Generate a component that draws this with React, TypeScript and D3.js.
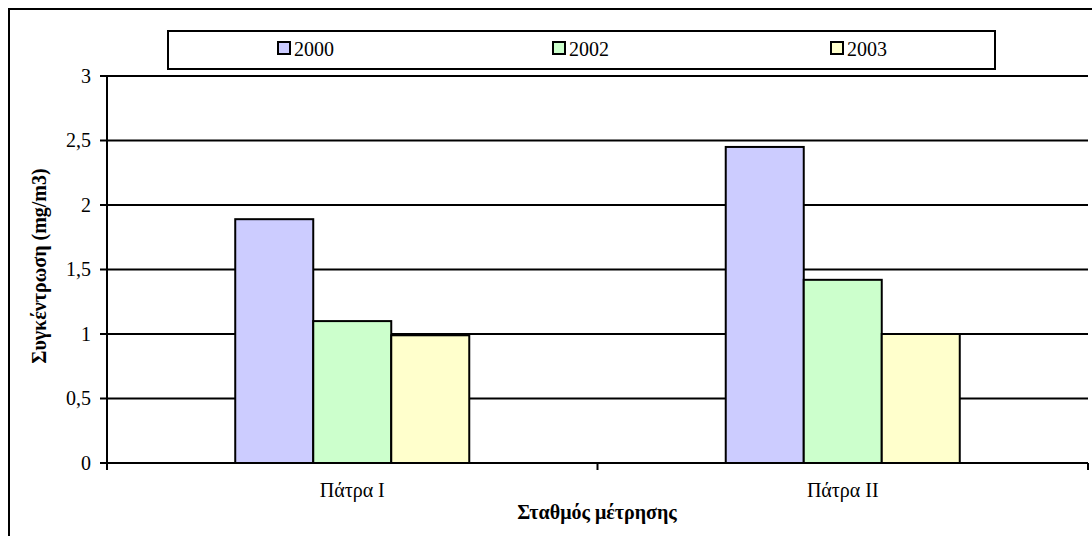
import React from "react";
import * as d3 from "d3";

const categories = ["Πάτρα I", "Πάτρα II"];
const seriesNames = ["2000", "2002", "2003"];
const values2000 = [1.89, 2.45];
const values2002 = [1.1, 1.42];
const values2003 = [0.99, 1.0];
const seriesColors = ["#CCCCFF", "#CCFFCC", "#FFFFCC"];
const yTicks = [0, 0.5, 1, 1.5, 2, 2.5, 3];
const yTitle = "Συγκέντρωση (mg/m3)";
const xTitle = "Σταθμός μέτρησης";

const W = 1092;
const H = 536;
const left = 107;
const right = 1088;
const top = 76;
const bottom = 463;
const font = "Liberation Serif, DejaVu Serif, serif";

export default function App() {
  const seriesValues = [values2000, values2002, values2003];
  const y = d3.scaleLinear().domain([0, 3]).range([bottom, top]);
  const x0 = d3.scaleBand<string>().domain(categories).range([left, right]).paddingInner(0).paddingOuter(0);
  const x1 = d3
    .scaleBand<string>()
    .domain(seriesNames)
    .range([0, x0.bandwidth()])
    .paddingInner(0)
    .paddingOuter(1.644);
  const fmt = (v: number) => String(v).replace(".", ",");
  const legendX = [277, 552, 830];
  const txt = { fontFamily: font, fill: "#000" } as React.CSSProperties;

  return (
    <div style={{ position: "absolute", left: 0, top: 0 }}>
      <svg width={W} height={H} style={{ display: "block", background: "#fff" }}>
        <path d={`M9,${H + 5} V9 H${W + 5}`} fill="none" stroke="#000" strokeWidth={2} />
        <rect x={168} y={31} width={827} height={38} fill="#fff" stroke="#000" strokeWidth={2} />
        {seriesNames.map((s, i) => (
          <g key={s}>
            <rect x={legendX[i] + 1} y={42} width={12} height={12} fill={seriesColors[i]} stroke="#000" strokeWidth={2} />
            <text x={legendX[i] + 17} y={56} style={{ ...txt, fontSize: 20 }}>
              {s}
            </text>
          </g>
        ))}
        {yTicks.map((t) => (
          <line key={t} x1={left} x2={right} y1={y(t)} y2={y(t)} stroke="#000" strokeWidth={2} />
        ))}
        {categories.map((c, ci) =>
          seriesNames.map((s, si) => {
            const v = seriesValues[si][ci];
            const bx = (x0(c) as number) + (x1(s) as number);
            return (
              <rect
                key={c + s}
                x={bx}
                y={y(v)}
                width={x1.bandwidth()}
                height={y(0) - y(v)}
                fill={seriesColors[si]}
                stroke="#000"
                strokeWidth={2}
              />
            );
          })
        )}
        <line x1={left} x2={left} y1={top} y2={bottom} stroke="#000" strokeWidth={2} />
        {yTicks.map((t) => (
          <g key={"yt" + t}>
            <line x1={left - 7} x2={left} y1={y(t)} y2={y(t)} stroke="#000" strokeWidth={2} />
            <text x={91} y={y(t) + 6.5} textAnchor="end" style={{ ...txt, fontSize: 20 }}>
              {fmt(t)}
            </text>
          </g>
        ))}
        <line x1={left} x2={right} y1={bottom} y2={bottom} stroke="#000" strokeWidth={2} />
        {[left, x0(categories[1]) as number, right].map((tx, i) => (
          <line key={"xt" + i} x1={tx} x2={tx} y1={bottom} y2={bottom + 7} stroke="#000" strokeWidth={2} />
        ))}
        {categories.map((c) => (
          <text
            key={"xl" + c}
            x={(x0(c) as number) + x0.bandwidth() / 2}
            y={497}
            textAnchor="middle"
            style={{ ...txt, fontSize: 20 }}
          >
            {c}
          </text>
        ))}
        <text x={597} y={519} textAnchor="middle" style={{ ...txt, fontSize: 20, fontWeight: "bold" }}>
          {xTitle}
        </text>
        <text
          transform={`translate(46,266) rotate(-90)`}
          textAnchor="middle"
          style={{ ...txt, fontSize: 20, fontWeight: "bold" }}
        >
          {yTitle}
        </text>
      </svg>
    </div>
  );
}
